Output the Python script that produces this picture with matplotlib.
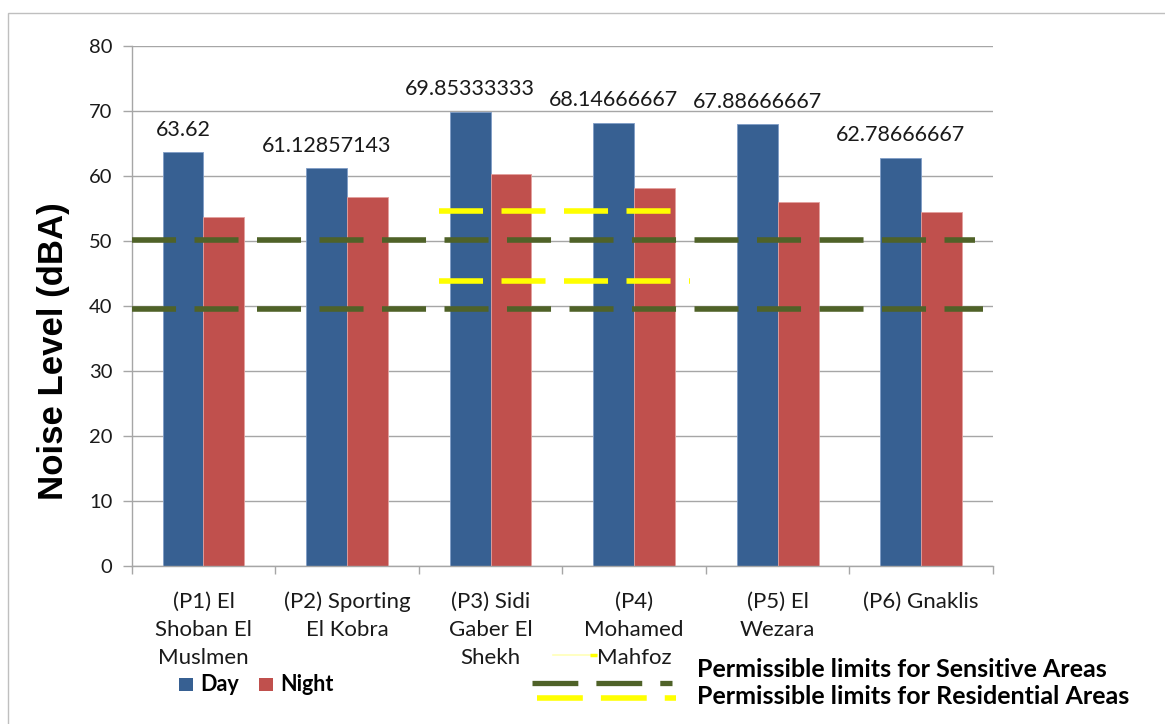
import matplotlib
matplotlib.use("Agg")
import matplotlib.pyplot as plt
from matplotlib.lines import Line2D
from matplotlib.patches import Rectangle

# ---- data -------------------------------------------------------------
locations = [
    "(P1) El\nShoban El\nMuslmen",
    "(P2) Sporting\nEl Kobra",
    "(P3) Sidi\nGaber El\nShekh",
    "(P4)\nMohamed\nMahfoz",
    "(P5) El\nWezara",
    "(P6) Gnaklis",
]
day = [63.62, 61.12857143, 69.85333333, 68.14666667, 67.88666667, 62.78666667]
night = [53.6, 56.7, 60.2, 58.1, 55.9, 54.4]

y_ticks = [0, 10, 20, 30, 40, 50, 60, 70, 80]

# permissible-limit reference lines: level, x start, x end (category units)
sensitive_levels = [50.15, 39.45]
sensitive_x0 = [-0.5, -0.5]
sensitive_x1 = [5.375, 5.43]
residential_levels = [54.5, 43.8]
residential_x0 = [1.64, 1.64]
residential_x1 = [3.257, 3.389]

series_names = ["Day", "Night"]
limit_names = ["Permissible limits for Sensitive Areas",
               "Permissible limits for Residential Areas"]

# ---- style ------------------------------------------------------------
plt.rcParams["font.family"] = ["Lato", "DejaVu Sans"]
plt.rcParams["lines.scale_dashes"] = False

W, H = 1165, 724
BLUE = "#376092"
RED = "#C0504D"
GREEN = "#4F6228"
YELLOW = "#FFFF00"
GRID = "#A6A6A6"
TXT = "#1a1a1a"
DASH = (31.7, 13.3)

fig = plt.figure(figsize=(W / 100, H / 100), dpi=100)
ax = fig.add_axes([131.7 / W, 1 - 565.7 / H, (993 - 131.7) / W, (565.7 - 45.7) / H])

# outer chart border
fig.add_artist(Rectangle((8.4 / W, -0.05), 1.1, 1 - 12.7 / H + 0.05,
                         transform=fig.transFigure, fill=False,
                         edgecolor="#BFBFBF", linewidth=1.0))

x = list(range(len(locations)))
bw = 0.285
ax.bar([i - bw / 2 for i in x], day, width=bw, color=BLUE,
       edgecolor="#7F9CC6", linewidth=0.6, zorder=2)
ax.bar([i + bw / 2 for i in x], night, width=bw, color=RED,
       edgecolor="#E3A09E", linewidth=0.6, zorder=2)

# value labels above the day bars
for i, v in zip(x, day):
    ax.annotate(f"{v:.10g}", (i - bw / 2, v), xytext=(0, 12),
                textcoords="offset points", ha="center", va="baseline",
                fontsize=15.5, color=TXT, zorder=5)

# reference lines
for lvl, a, b in zip(sensitive_levels, sensitive_x0, sensitive_x1):
    ax.plot([a, b], [lvl, lvl], color=GREEN, linewidth=4.0,
            dashes=DASH, solid_capstyle="butt", dash_capstyle="butt", zorder=4)
for lvl, a, b in zip(residential_levels, residential_x0, residential_x1):
    ax.plot([a, b], [lvl, lvl], color=YELLOW, linewidth=4.0,
            dashes=DASH, solid_capstyle="butt", dash_capstyle="butt", zorder=4)

# axes
ax.set_xlim(-0.5, 5.5)
ax.set_ylim(0, 80)
ax.set_yticks(y_ticks)
ax.tick_params(axis="y", direction="out", length=6.3, width=1.0,
               color=GRID, labelsize=14.5, labelcolor=TXT, pad=7.5)
ax.yaxis.grid(True, color=GRID, linewidth=1.0, zorder=0)
ax.set_axisbelow(True)

ax.set_xticks([i - 0.5 for i in range(len(locations) + 1)])
ax.set_xticklabels([])
ax.tick_params(axis="x", which="major", direction="out", length=6,
               width=1.0, color=GRID)
ax.set_xticks(x, minor=True)
ax.set_xticklabels(locations, minor=True, fontsize=16, color=TXT,
                   linespacing=1.53)
ax.tick_params(axis="x", which="minor", length=0, pad=18.5)

for s in ["top", "right"]:
    ax.spines[s].set_visible(False)
for s in ["left", "bottom"]:
    ax.spines[s].set_color(GRID)
    ax.spines[s].set_linewidth(1.0)

fig.text(54 / W, 1 - 351 / H, "Noise Level (dBA)", rotation=90,
         ha="center", va="center", fontsize=25, fontweight="bold",
         family="Liberation Sans", color="black")

# series legend
def fx(px):
    return px / W

def fy(py):
    return 1 - py / H

for (x0, name, col) in [(179, series_names[0], BLUE), (259, series_names[1], RED)]:
    fig.add_artist(Rectangle((fx(x0), fy(691)), 13.5 / W, 13.5 / H,
                             transform=fig.transFigure, facecolor=col,
                             edgecolor="none"))
    fig.text(fx(x0 + 21), fy(691), name, ha="left", va="baseline",
             fontsize=15.5, fontweight="bold", color="black")

# limit legend
fig.add_artist(Line2D([fx(553), fx(597)], [fy(655), fy(655)],
                      transform=fig.transFigure, color="#FFFFB8", linewidth=1.2))
fig.add_artist(Line2D([fx(590), fx(597)], [fy(655), fy(655)],
                      transform=fig.transFigure, color=YELLOW, linewidth=2.5,
                      solid_capstyle="butt"))
fig.add_artist(Line2D([fx(532), fx(672)], [fy(682.5), fy(682.5)],
                      transform=fig.transFigure, color=GREEN, linewidth=3.8,
                      dashes=(33, 13), dash_capstyle="butt"))
fig.add_artist(Line2D([fx(537), fx(676)], [fy(698), fy(698)],
                      transform=fig.transFigure, color=YELLOW, linewidth=4.0,
                      dashes=(33, 13), dash_capstyle="butt"))
fig.text(fx(697), fy(677), limit_names[0], ha="left", va="baseline",
         fontsize=18, fontweight="bold", color="black")
fig.text(fx(697), fy(704), limit_names[1], ha="left", va="baseline",
         fontsize=18, fontweight="bold", color="black")

fig.savefig("out.png", dpi=100)
